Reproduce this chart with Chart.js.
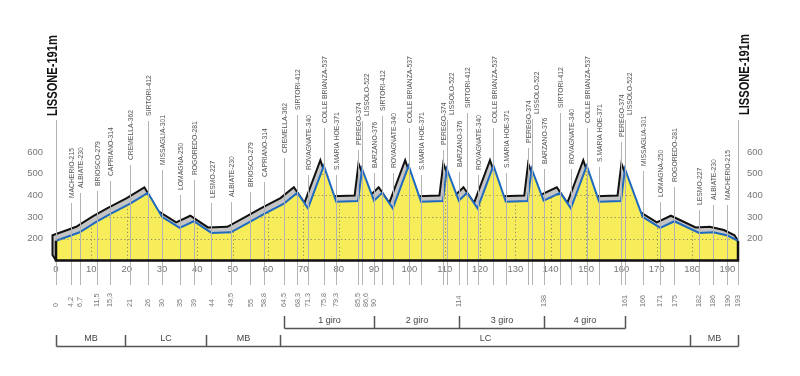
<!DOCTYPE html>
<html>
<head>
<meta charset="utf-8">
<script src="https://cdn.jsdelivr.net/npm/chart.js@4.4.1/dist/chart.umd.min.js"></script>
<style>
  html, body { margin: 0; padding: 0; background: #fff; }
  #wrap { width: 800px; height: 376px; }
</style>
</head>
<body>
<div id="wrap"><canvas id="profilo"></canvas></div>
<script>
// località, km progressivi e quota (m)
const places = ['LISSONE', 'MACHERIO', 'ALBIATE', 'BRIOSCO', 'CAPRIANO', 'CREMELLA', 'SIRTORI', 'MISSAGLIA',
  'LOMAGNA', 'ROGOREDO', 'LESMO', 'ALBIATE', 'BRIOSCO', 'CAPRIANO', 'CREMELLA',
  'SIRTORI', 'ROVAGNATE', 'COLLE BRIANZA', 'S.MARIA HOE', 'PEREGO', 'LISSOLO', 'BARZANO',
  'SIRTORI', 'ROVAGNATE', 'COLLE BRIANZA', 'S.MARIA HOE', 'PEREGO', 'LISSOLO', 'BARZANO',
  'SIRTORI', 'ROVAGNATE', 'COLLE BRIANZA', 'S.MARIA HOE', 'PEREGO', 'LISSOLO', 'BARZANO',
  'SIRTORI', 'ROVAGNATE', 'COLLE BRIANZA', 'S.MARIA HOE', 'PEREGO', 'LISSOLO',
  'MISSAGLIA', 'LOMAGNA', 'ROGOREDO', 'LESMO', 'ALBIATE', 'MACHERIO', 'LISSONE'];
const km = [0, 4.2, 6.7, 11.5, 15.3, 21, 26, 30,
  35, 39, 44, 49.5, 55, 58.8, 64.5,
  68.3, 71.3, 75.8, 79.3, 85.5, 86.6, 90,
  92.3, 95.3, 99.8, 103.3, 109.5, 110.6, 114,
  116.3, 119.3, 123.8, 127.3, 133.5, 134.6, 138,
  142.7, 145.7, 150.2, 153.7, 159.9, 161,
  166, 171, 175, 182, 186, 190, 193];
const quota = [191, 215, 230, 279, 314, 362, 412, 301,
  250, 281, 227, 230, 279, 314, 362,
  412, 340, 537, 371, 374, 522, 376,
  412, 340, 537, 371, 374, 522, 376,
  412, 340, 537, 371, 374, 522, 376,
  412, 340, 537, 371, 374, 522,
  301, 250, 281, 227, 230, 215, 191];

// km scritti sotto il profilo
const kmMarks = [0, 4.2, 6.7, 11.5, 15.3, 21, 26, 30, 35, 39, 44, 49.5, 55, 58.8, 64.5, 68.3, 71.3,
  75.8, 79.3, 85.5, 86.6, 90, 114, 138, 161, 166, 171, 175, 182, 186, 190, 193];
const kmTicks = [0, 10, 20, 30, 40, 50, 60, 70, 80, 90, 100, 110, 120, 130, 140, 150, 160, 170, 180, 190];
const quotaTicks = [200, 300, 400, 500, 600];

const lapBounds = [64.5, 90, 114, 138, 161];
const lapNames = ['1 giro', '2 giro', '3 giro', '4 giro'];
const provBounds = [0, 19.5, 42.5, 63.5, 179.5, 193];
const provNames = ['MB', 'LC', 'MB', 'LC', 'MB'];

// layout: dove finisce (in basso) la scritta di ogni località, in px
const labelBottom = [null, 198, 188, 186, 176, 160, 116, 165,
  190, 175, 198, 197, 187, 177, 153,
  110, 170, 123, 170, 145, 116, 168,
  111, 168, 123, 170, 145, 115, 167,
  108, 170, 123, 168, 143, 114, 164,
  108, 164, 123, 162, 137, 115,
  166, 197, 182, 205, 200, 200, null];

const DX = -3.5, DY = -5.5;   // spessore del "fianco" grigio
const LINE_END = 285;
const SANS = '"Liberation Sans", Arial, sans-serif';

function spread(xs, gap) {
  const out = xs.slice();
  for (let i = 1; i < out.length; i++) {
    if (out[i] == null || out[i - 1] == null) continue;
    if (out[i] < out[i - 1] + gap) out[i] = out[i - 1] + gap;
  }
  return out;
}

// testo verticale (dal basso verso l'alto), sx = compressione orizzontale
function rotText(ctx, txt, x, y, sx) {
  ctx.save();
  ctx.translate(x, y);
  ctx.rotate(-Math.PI / 2);
  ctx.scale(sx || 1, 1);
  ctx.fillText(txt, 0, 0);
  ctx.restore();
}

const profilo = {
  id: 'profilo',
  beforeDatasetsDraw(chart) {
    const ctx = chart.ctx;
    const pts = chart.getDatasetMeta(0).data;
    const bottom = chart.chartArea.bottom;
    const first = pts[0], last = pts[pts.length - 1];

    const backEdge = () => {
      ctx.moveTo(first.x, bottom);
      ctx.lineTo(first.x + DX, bottom + DY);
      pts.forEach(p => ctx.lineTo(p.x + DX, p.y + DY));
      ctx.lineTo(last.x, last.y);
    };
    ctx.save();
    ctx.beginPath();
    backEdge();
    ctx.lineTo(last.x, bottom);
    ctx.closePath();
    ctx.fillStyle = '#c4c4c4';
    ctx.fill();
    ctx.beginPath();
    backEdge();
    ctx.strokeStyle = '#111';
    ctx.lineWidth = 2;
    ctx.lineJoin = 'miter';
    ctx.stroke();
    ctx.restore();
  },
  afterDatasetsDraw(chart) {
    const ctx = chart.ctx;
    const {left, right, top, bottom} = chart.chartArea;
    const xs = chart.scales.x, ys = chart.scales.y;
    const pts = chart.getDatasetMeta(0).data;
    const first = pts[0], last = pts[pts.length - 1];

    // griglia puntinata solo dentro il giallo
    ctx.save();
    ctx.beginPath();
    ctx.moveTo(first.x, bottom);
    pts.forEach(p => ctx.lineTo(p.x, p.y));
    ctx.lineTo(last.x, bottom);
    ctx.closePath();
    ctx.clip();
    ctx.setLineDash([1.2, 2.6]);
    ctx.strokeStyle = '#8c8a6a';
    ctx.lineWidth = 1;
    quotaTicks.forEach(v => {
      const y = Math.round(ys.getPixelForValue(v)) + 0.5;
      ctx.beginPath(); ctx.moveTo(left, y); ctx.lineTo(right, y); ctx.stroke();
    });
    kmTicks.forEach(k => {
      if (k === 0) return;
      const x = Math.round(xs.getPixelForValue(k)) + 0.5;
      ctx.beginPath(); ctx.moveTo(x, top); ctx.lineTo(x, bottom); ctx.stroke();
    });
    ctx.restore();

    // linee verticali delle località
    ctx.save();
    ctx.strokeStyle = '#b3b3b3';
    ctx.lineWidth = 1;
    km.forEach((k, i) => {
      const x = Math.round(xs.getPixelForValue(k)) + 0.5;
      const y0 = labelBottom[i] == null ? 120 : labelBottom[i] + 5;
      ctx.beginPath(); ctx.moveTo(x, y0); ctx.lineTo(x, LINE_END); ctx.stroke();
    });
    ctx.restore();

    // bordo nero del profilo
    ctx.save();
    ctx.strokeStyle = '#111';
    ctx.lineWidth = 2.5;
    ctx.beginPath();
    ctx.moveTo(first.x, first.y);
    ctx.lineTo(first.x, bottom);
    ctx.lineTo(last.x, bottom);
    ctx.lineTo(last.x, last.y);
    ctx.stroke();
    ctx.restore();
  },
  afterDraw(chart) {
    const ctx = chart.ctx;
    const xs = chart.scales.x;
    const px = km.map(k => xs.getPixelForValue(k));
    const x0 = px[0], xN = px[px.length - 1];

    ctx.save();
    // titoli partenza / arrivo
    ctx.fillStyle = '#111';
    ctx.font = 'bold 15px ' + SANS;
    ctx.textAlign = 'left';
    ctx.textBaseline = 'alphabetic';
    rotText(ctx, places[0] + '-' + quota[0] + 'm', x0 + 1, 116, 0.74);
    rotText(ctx, places[places.length - 1] + '-' + quota[quota.length - 1] + 'm', xN + 11, 115, 0.74);

    // nomi località
    ctx.fillStyle = '#555';
    ctx.font = '7.5px ' + SANS;
    ctx.textBaseline = 'middle';
    const tx = spread(px.map((x, i) => labelBottom[i] == null ? null : x + 1), 8);
    places.forEach((p, i) => {
      if (labelBottom[i] == null) return;
      rotText(ctx, p + '-' + quota[i], tx[i], labelBottom[i], 0.9);
    });

    // km sotto
    ctx.fillStyle = '#777';
    ctx.font = '8px ' + SANS;
    const mx = spread(kmMarks.map(k => xs.getPixelForValue(k)), 8);
    kmMarks.forEach((k, i) => {
      rotText(ctx, String(k).replace('.', ','), mx[i], 307, 0.9);
    });

    // parentesi giri e province
    ctx.strokeStyle = '#555';
    ctx.lineWidth = 1.5;
    ctx.fillStyle = '#444';
    ctx.font = '9px ' + SANS;
    ctx.textAlign = 'center';
    const bracket = (bounds, names, yTop, yLine, yText) => {
      const bx = bounds.map(b => Math.round(xs.getPixelForValue(b)) + 0.5);
      ctx.beginPath();
      bx.forEach(x => { ctx.moveTo(x, yTop); ctx.lineTo(x, yLine); });
      ctx.moveTo(bx[0], yLine);
      ctx.lineTo(bx[bx.length - 1], yLine);
      ctx.stroke();
      names.forEach((n, i) => ctx.fillText(n, (bx[i] + bx[i + 1]) / 2, yText));
    };
    bracket(lapBounds, lapNames, 316, 328.5, 320.5);
    bracket(provBounds, provNames, 335, 346.5, 338.5);
    ctx.restore();
  }
};

const yAxis = (pos, width, pad) => ({
  type: 'linear',
  position: pos,
  min: 100,
  max: 600,
  grid: { display: false, drawTicks: false },
  border: { display: false },
  afterBuildTicks: s => { s.ticks = quotaTicks.map(v => ({ value: v })); },
  afterFit: s => { s.width = width; },
  ticks: { color: '#777', padding: pad, font: { family: SANS, size: 9.5 } }
});

new Chart(document.getElementById('profilo'), {
  type: 'line',
  data: {
    datasets: [{
      data: km.map((k, i) => ({ x: k, y: quota[i] })),
      borderColor: '#1e6ac2',
      borderWidth: 2,
      backgroundColor: '#f7ec5a',
      fill: 'start',
      pointRadius: 0,
      tension: 0,
      clip: false
    }]
  },
  options: {
    responsive: true,
    maintainAspectRatio: false,
    animation: false,
    layout: { padding: { top: 152, right: 0, bottom: 0, left: 0 } },
    plugins: { legend: { display: false }, tooltip: { enabled: false } },
    scales: {
      x: {
        type: 'linear',
        min: 0,
        max: 193,
        grid: { display: false, drawTicks: false },
        border: { display: false },
        afterBuildTicks: s => { s.ticks = kmTicks.map(v => ({ value: v })); },
        afterFit: s => { s.height = 115.5; },
        ticks: { color: '#777', padding: 3, maxRotation: 0, autoSkip: false, font: { family: SANS, size: 9.5 } }
      },
      y: yAxis('left', 56, 13),
      y2: yAxis('right', 62, 9)
    }
  },
  plugins: [profilo]
});
</script>
</body>
</html>
